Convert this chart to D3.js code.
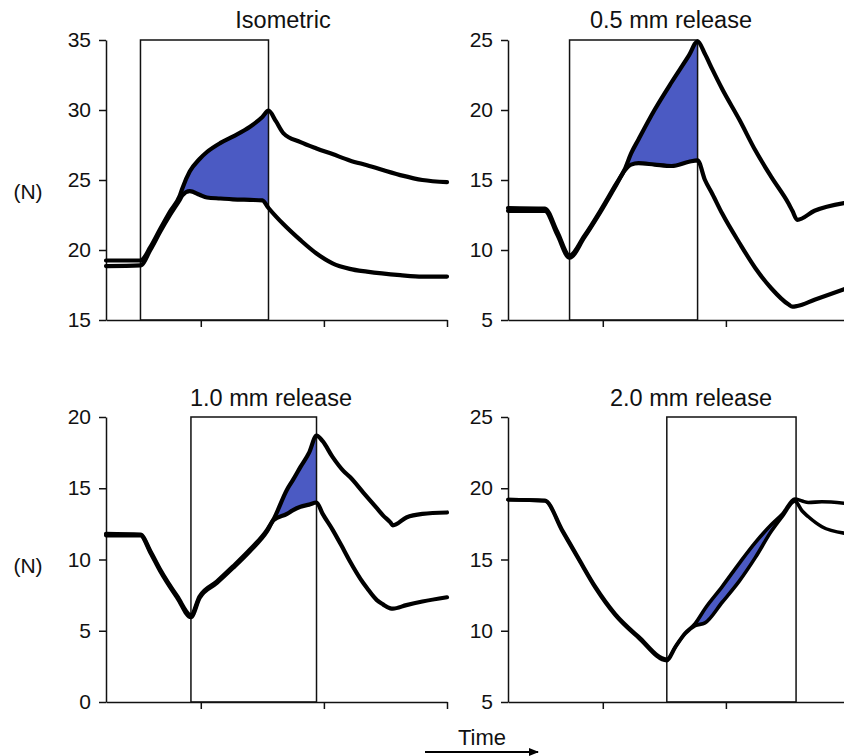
<!DOCTYPE html>
<html>
<head>
<meta charset="utf-8">
<script src="https://cdn.jsdelivr.net/npm/d3@7"></script>
<style>
  html, body { margin: 0; padding: 0; background: #fff; }
  svg { display: block; }
  text { font-family: "Liberation Sans", Arial, sans-serif; fill: #111; }
</style>
</head>
<body>
<svg id="chart" width="844" height="756"></svg>
<script>
// ---- Data (time in arbitrary units, force in N) ----
const titles = ["Isometric", "0.5 mm release", "1.0 mm release", "2.0 mm release"];
const yDomains = [[15, 35], [5, 25], [0, 20], [5, 25]];
const yTicks = [[15, 20, 25, 30, 35], [5, 10, 15, 20, 25], [0, 5, 10, 15, 20], [5, 10, 15, 20, 25]];
const xTicks = [77, 177, 277];
const timeLabel = "Time";
const unitLabel = "(N)";

const boxes = [[28, 132], [50, 154], [69, 171], [129, 234]];
const fills = [[60, 132], [95, 154], [136, 171], [144, 233]];

const time1  = [0, 28, 36, 44, 52, 60, 62, 68, 76, 82, 93, 103, 117, 127, 132, 138, 144, 158, 171, 184, 198, 212, 239, 257, 277];
const upper1 = [19.25, 19.25, 20.2, 21.5, 22.75, 23.9, 24.4, 25.6, 26.5, 27.0, 27.65, 28.1, 28.8, 29.5, 29.95, 29.2, 28.35, 27.7, 27.25, 26.85, 26.4, 26.05, 25.35, 25.0, 24.85];
const lower1 = [18.85, 18.9, 20.0, 21.3, 22.5, 23.6, 23.9, 24.2, 23.95, 23.75, 23.68, 23.62, 23.58, 23.55, 23.0, 22.4, 21.85, 20.7, 19.75, 19.05, 18.65, 18.45, 18.2, 18.1, 18.1];

const time2  = [0, 30, 40, 50, 62, 75, 87, 95, 100, 106, 119, 133, 147, 154, 160, 166, 174, 188, 201, 214, 228, 231, 235, 249, 273];
const upper2 = [13.0, 12.95, 11.3, 9.6, 11.0, 12.8, 14.6, 15.8, 16.9, 17.9, 20.0, 22.0, 23.9, 24.9, 24.0, 22.9, 21.5, 19.3, 17.1, 15.2, 13.3, 12.8, 12.15, 12.8, 13.35];
const lower2 = [12.8, 12.8, 11.1, 9.45, 10.9, 12.7, 14.5, 15.7, 16.1, 16.2, 16.1, 16.0, 16.3, 16.4, 15.0, 14.0, 12.6, 10.5, 8.7, 7.25, 6.1, 5.95, 6.0, 6.45, 7.2];

const time3  = [0, 28, 36, 44, 58, 69, 76, 90, 103, 117, 131, 136, 147, 152, 158, 165, 171, 176, 184, 193, 198, 209, 212, 220, 225, 231, 233, 244, 257, 277];
const upper3 = [11.8, 11.75, 10.6, 9.3, 7.4, 6.1, 7.4, 8.45, 9.5, 10.7, 12.1, 12.8, 14.9, 15.6, 16.5, 17.5, 18.7, 18.3, 17.2, 16.2, 15.8, 14.7, 14.4, 13.6, 13.1, 12.6, 12.4, 12.95, 13.2, 13.3];
const lower3 = [11.7, 11.7, 10.5, 9.2, 7.3, 5.95, 7.3, 8.35, 9.4, 10.6, 12.0, 12.75, 13.2, 13.47, 13.7, 13.85, 14.0, 13.2, 12.1, 10.7, 9.9, 8.35, 8.0, 7.15, 6.85, 6.57, 6.55, 6.8, 7.05, 7.35];

const time4  = [0, 30, 44, 58, 71, 87, 106, 129, 136, 144, 152, 160, 174, 188, 201, 214, 223, 233, 239, 244, 255, 273];
const upper4 = [19.2, 19.15, 17.1, 15.0, 13.1, 11.2, 9.6, 8.0, 8.9, 9.85, 10.5, 11.55, 13.1, 14.75, 16.2, 17.45, 18.2, 19.25, 19.1, 19.0, 19.05, 18.95];
const lower4 = [19.2, 19.1, 17.0, 14.9, 13.0, 11.1, 9.5, 7.9, 8.85, 9.8, 10.35, 10.55, 12.0, 13.5, 15.15, 17.0, 18.05, 19.1, 18.4, 18.0, 17.3, 16.85];

const times = [time1, time2, time3, time4];
const uppers = [upper1, upper2, upper3, upper4];
const lowers = [lower1, lower2, lower3, lower4];

// ---- Layout ----
const panelLayout = [
  { ax: 106, top: 40,  bottom: 320, titleX: 283, titleY: 28,  unitY: 192 },
  { ax: 508, top: 40,  bottom: 320, titleX: 671, titleY: 28,  unitY: null },
  { ax: 106, top: 417, bottom: 702, titleX: 271, titleY: 406, unitY: 566 },
  { ax: 508, top: 417, bottom: 702, titleX: 691, titleY: 406, unitY: null }
];
const axisLen = 341;
const xDomain = [0, 277];
const fillColor = "#4b5ac3";
const curve = d3.curveMonotoneX;

const svg = d3.select("#chart");
svg.append("rect").attr("width", 844).attr("height", 756).attr("fill", "#fff");

panelLayout.forEach((L, i) => {
  const g = svg.append("g");
  const x = d3.scaleLinear().domain(xDomain).range([L.ax, L.ax + axisLen]);
  const y = d3.scaleLinear().domain(yDomains[i]).range([L.bottom, L.top]);
  const pts = times[i].map((t, k) => ({ t, u: uppers[i][k], l: lowers[i][k] }));

  // fill between curves
  const fr = fills[i];
  const fpts = pts.filter(p => p.t >= fr[0] && p.t <= fr[1]);
  g.append("path")
    .datum(fpts)
    .attr("fill", fillColor)
    .attr("d", d3.area().curve(curve).x(p => x(p.t)).y0(p => y(p.l)).y1(p => y(p.u)));

  // stimulation box
  const b = boxes[i];
  g.append("rect")
    .attr("x", x(b[0])).attr("y", y(yDomains[i][1]))
    .attr("width", x(b[1]) - x(b[0]))
    .attr("height", y(yDomains[i][0]) - y(yDomains[i][1]))
    .attr("fill", "none").attr("stroke", "#111").attr("stroke-width", 1.5);

  // axes
  const yAxis = d3.axisLeft(y).tickValues(yTicks[i]).tickSize(7).tickSizeOuter(0).tickPadding(8);
  const ya = g.append("g").attr("transform", `translate(${L.ax},0)`).call(yAxis);
  const xAxis = d3.axisBottom(x).tickValues(xTicks).tickSize(7).tickSizeOuter(0).tickFormat("");
  const xa = g.append("g").attr("transform", `translate(0,${L.bottom})`).call(xAxis);
  [ya, xa].forEach(a => {
    a.select(".domain").attr("stroke", "#111").attr("stroke-width", 1.5);
    a.selectAll(".tick line").attr("stroke", "#111").attr("stroke-width", 1.5);
    a.selectAll(".tick text").attr("font-size", 21).attr("fill", "#111")
      .attr("font-family", "'Liberation Sans', Arial, sans-serif");
  });

  // curves
  const line = (key) => d3.line().curve(curve).x(p => x(p.t)).y(p => y(p[key]));
  ["l", "u"].forEach(key => {
    g.append("path").datum(pts)
      .attr("fill", "none").attr("stroke", "#000").attr("stroke-width", i === 3 ? 3.6 : 4.2)
      .attr("stroke-linejoin", "round").attr("stroke-linecap", "round")
      .attr("d", line(key));
  });

  // title
  g.append("text").attr("x", L.titleX).attr("y", L.titleY)
    .attr("text-anchor", "middle").attr("font-size", 23.5).text(titles[i]);

  if (L.unitY !== null) {
    g.append("text").attr("x", 28).attr("y", L.unitY).attr("dy", "0.35em")
      .attr("text-anchor", "middle").attr("font-size", 21).text(unitLabel);
  }
});

// Time arrow
svg.append("defs").append("marker")
  .attr("id", "arr").attr("viewBox", "0 0 10 10").attr("refX", 9).attr("refY", 5)
  .attr("markerWidth", 10).attr("markerHeight", 10).attr("markerUnits", "userSpaceOnUse")
  .attr("orient", "auto")
  .append("path").attr("d", "M0,1 L10,5 L0,9 Z").attr("fill", "#000");
svg.append("line").attr("x1", 425).attr("x2", 538).attr("y1", 752).attr("y2", 752)
  .attr("stroke", "#000").attr("stroke-width", 2).attr("marker-end", "url(#arr)");
svg.append("text").attr("x", 482).attr("y", 745).attr("text-anchor", "middle")
  .attr("font-size", 22).text(timeLabel);
</script>
</body>
</html>
